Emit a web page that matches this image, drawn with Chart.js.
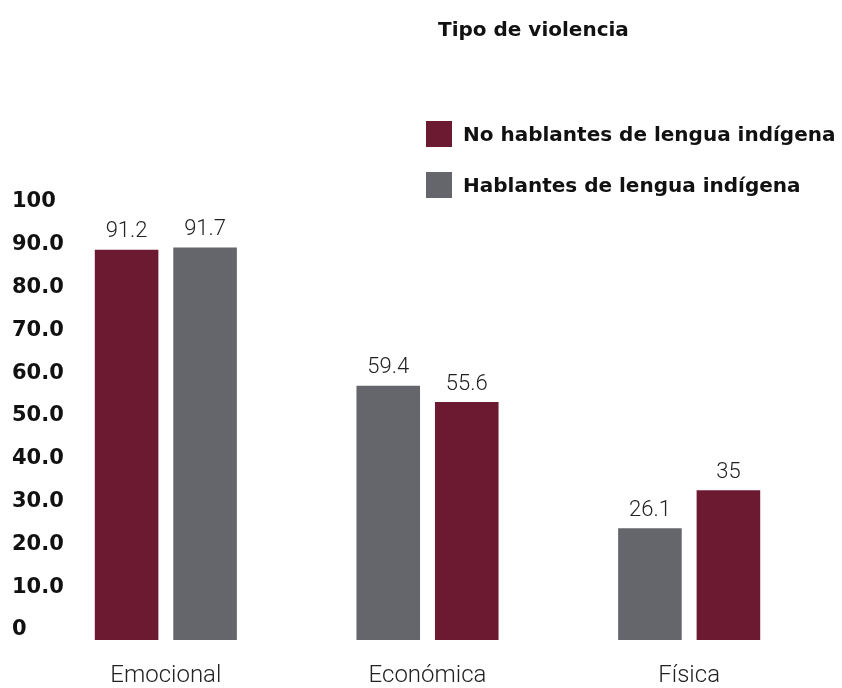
<!DOCTYPE html>
<html lang="es">
<head>
<meta charset="utf-8">
<title>Tipo de violencia</title>
<script src="https://cdn.jsdelivr.net/npm/chart.js@4.4.1/dist/chart.umd.min.js"></script>
<style>
  html, body { margin: 0; padding: 0; background: #ffffff; }
  #wrap { position: relative; width: 842px; height: 688px; }
  #chart { position: absolute; left: 0; top: 0; }
  #title { position: absolute; left: 438px; top: 17px; font: bold 20px "DejaVu Sans", sans-serif; color: #111; white-space: nowrap; }
  #legend { position: absolute; left: 426px; top: 121px; }
  .item { display: flex; align-items: center; height: 26px; margin-bottom: 25px;
          font: bold 20px "DejaVu Sans", sans-serif; color: #111; white-space: nowrap; }
  .sw { width: 26px; height: 26px; margin-right: 11px; flex: none; }
</style>
</head>
<body>
<div id="wrap">
  <canvas id="chart" width="842" height="688"></canvas>
  <div id="title">Tipo de violencia</div>
  <div id="legend"></div>
</div>
<script>
// Categories and values (percent)
const categories = ['Emocional', 'Económica', 'Física'];
const seriesNames = ['No hablantes de lengua indígena', 'Hablantes de lengua indígena'];
const noHablantes = [91.2, 55.6, 35];
const hablantes = [91.7, 59.4, 26.1];
// Which series is placed first (left) inside each category group: 0 = no hablantes, 1 = hablantes
const leftSeries = [0, 1, 1];
const yTickValues = [0, 10, 20, 30, 40, 50, 60, 70, 80, 90, 100];

const seriesColors = ['#6b1a31', '#65666b'];
const seriesValues = [noHablantes, hablantes];

// Build the two bar slots (left / right) of every group from the series arrays
const leftData = categories.map((_, i) => seriesValues[leftSeries[i]][i]);
const rightData = categories.map((_, i) => seriesValues[1 - leftSeries[i]][i]);
const leftColors = categories.map((_, i) => seriesColors[leftSeries[i]]);
const rightColors = categories.map((_, i) => seriesColors[1 - leftSeries[i]]);

// Legend
const legendEl = document.getElementById('legend');
seriesNames.forEach((name, k) => {
  const row = document.createElement('div');
  row.className = 'item';
  const sw = document.createElement('span');
  sw.className = 'sw';
  sw.style.background = seriesColors[k];
  const tx = document.createElement('span');
  tx.textContent = name;
  row.appendChild(sw);
  row.appendChild(tx);
  legendEl.appendChild(row);
});

// Value labels above each bar
const valueLabels = {
  id: 'valueLabels',
  afterDatasetsDraw(chart) {
    const ctx = chart.ctx;
    ctx.save();
    ctx.font = '300 22px Roboto, sans-serif';
    ctx.fillStyle = '#222';
    ctx.textAlign = 'center';
    ctx.textBaseline = 'bottom';
    chart.data.datasets.forEach((ds, di) => {
      const meta = chart.getDatasetMeta(di);
      meta.data.forEach((bar, i) => {
        ctx.fillText(String(ds.data[i]), bar.x, bar.y - 7);
      });
    });
    ctx.restore();
  }
};

new Chart(document.getElementById('chart'), {
  type: 'bar',
  data: {
    labels: categories,
    datasets: [
      { label: 'izquierda', data: leftData, backgroundColor: leftColors,
        barPercentage: 0.81, categoryPercentage: 0.6 },
      { label: 'derecha', data: rightData, backgroundColor: rightColors,
        barPercentage: 0.81, categoryPercentage: 0.6 }
    ]
  },
  options: {
    responsive: false,
    animation: false,
    layout: { padding: { left: 12, right: 22, top: 212, bottom: 1 } },
    plugins: {
      legend: { display: false },
      tooltip: { enabled: false },
      title: { display: false }
    },
    scales: {
      x: {
        afterFit(scale) { scale.height = 47; },
        grid: { display: false, drawTicks: false },
        border: { display: false },
        ticks: {
          font: { family: 'Roboto, sans-serif', size: 24, weight: '300' },
          color: '#222',
          padding: 22
        }
      },
      y: {
        min: 0,
        max: 100,
        afterBuildTicks(scale) {
          scale.ticks = yTickValues.map(v => ({ value: v }));
        },
        afterFit(scale) { scale.width = 23; },
        grid: { display: false, drawTicks: false },
        border: { display: false },
        ticks: {
          font: { family: '"DejaVu Sans", sans-serif', size: 21, weight: 'bold' },
          color: '#111',
          mirror: true,
          crossAlign: 'near',
          labelOffset: -10,
          padding: -23,
          callback: (v) => (v === 0 || v === 100) ? String(v) : Number(v).toFixed(1)
        }
      }
    }
  },
  plugins: [valueLabels]
});
</script>
</body>
</html>
